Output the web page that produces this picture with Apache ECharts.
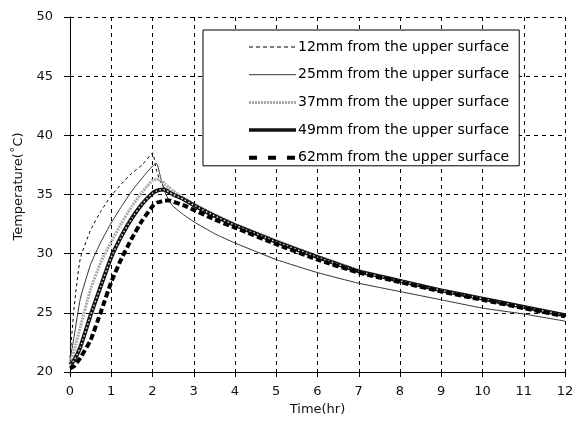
<!DOCTYPE html>
<html>
<head>
<meta charset="utf-8">
<script src="https://cdn.jsdelivr.net/npm/echarts@6/dist/echarts.min.js"></script>
<style>
  html, body { margin: 0; padding: 0; background: #fff; }
  #chart { width: 578px; height: 424px; }
</style>
</head>
<body>
<div id="chart"></div>
<script>
// time (hr) shared by every curve
var time = [0, 0.1, 0.25, 0.5, 0.75, 1, 1.25, 1.5, 1.75, 2, 2.1, 2.2, 2.3, 2.4, 2.5, 2.75, 3, 3.5, 4, 5, 6, 7, 8, 9, 10, 11, 12];

var names = [
    '12mm from the upper surface',
    '25mm from the upper surface',
    '37mm from the upper surface',
    '49mm from the upper surface',
    '62mm from the upper surface'
];

// temperatures
var t12 = [21.2, 25.5, 29.6, 32.0, 33.6, 34.9, 35.9, 36.8, 37.5, 38.5, 37.0, 36.0, 35.5, 35.2, 35.0, 34.5, 34.0, 33.1, 32.3, 30.9, 29.6, 28.4, 27.6, 26.9, 26.1, 25.4, 24.7];
var t25 = [21.0, 23.0, 26.2, 29.1, 31.0, 32.6, 34.0, 35.3, 36.4, 37.4, 37.6, 36.4, 35.2, 34.5, 34.0, 33.3, 32.7, 31.7, 30.9, 29.5, 28.4, 27.5, 26.8, 26.1, 25.4, 24.9, 24.3];
var t37 = [20.8, 21.8, 23.8, 27.0, 29.3, 31.0, 32.6, 34.0, 35.2, 36.2, 36.3, 36.2, 35.9, 35.6, 35.3, 34.7, 34.2, 33.3, 32.5, 31.1, 29.8, 28.6, 27.7, 26.9, 26.2, 25.5, 24.8];
var t49 = [20.6, 21.0, 22.1, 24.8, 27.3, 29.7, 31.5, 33.0, 34.2, 35.1, 35.3, 35.4, 35.4, 35.2, 35.0, 34.6, 34.1, 33.2, 32.4, 31.0, 29.7, 28.5, 27.7, 26.9, 26.2, 25.5, 24.8];
var t62 = [20.3, 20.5, 21.2, 22.7, 25.1, 27.6, 29.6, 31.3, 32.8, 34.0, 34.3, 34.4, 34.5, 34.5, 34.4, 34.1, 33.7, 32.9, 32.2, 30.8, 29.5, 28.4, 27.6, 26.8, 26.1, 25.4, 24.7];

function pairs(vals) {
    return time.map(function (t, i) { return [t, vals[i]]; });
}

var font = 'DejaVu Sans';
var chart = echarts.init(document.getElementById('chart'));

function curve(name, vals, style) {
    return {
        name: name,
        type: 'line',
        symbol: 'none',
        smooth: 0.15,
        data: pairs(vals),
        lineStyle: style,
        itemStyle: { color: style.color }
    };
}

// white dots over the 49mm curve
var dots = curve('49dots', t49, { color: '#ddd', width: 1.5, type: [1.5, 2.5] });
dots.silent = true;

var option = {
    animation: false,
    backgroundColor: '#fff',
    textStyle: { fontFamily: font },
    grid: { left: 70, right: 13, top: 17, bottom: 52 },
    legend: {
        data: [
            { name: names[0], lineStyle: { width: 1, type: [4, 3] } },
            { name: names[1], lineStyle: { width: 1 } },
            { name: names[2], lineStyle: { width: 3, type: [2, 1] } },
            { name: names[3], lineStyle: { width: 3.5 } },
            { name: names[4], lineStyle: { width: 4, type: [8, 11] } }
        ],
        orient: 'vertical',
        left: 203,
        top: 30,
        backgroundColor: '#fff',
        borderColor: '#000',
        borderWidth: 1,
        borderRadius: 0,
        padding: [10, 10, 1, 44],
        itemWidth: 47,
        itemHeight: 12,
        itemGap: 13.7,
        itemStyle: { opacity: 0 },
        textStyle: { fontFamily: font, fontSize: 14, lineHeight: 14, color: '#000', padding: [0, 0, 0, -3] },
        z: 10
    },
    xAxis: {
        type: 'value',
        min: 0,
        max: 12,
        interval: 1,
        name: 'Time(hr)',
        nameLocation: 'middle',
        nameGap: 31,
        nameTextStyle: { fontFamily: font, fontSize: 13, color: '#111' },
        axisLine: { onZero: false, lineStyle: { color: '#000', width: 1 } },
        axisTick: { length: 5, lineStyle: { color: '#000' } },
        axisLabel: { fontFamily: font, fontSize: 13, color: '#111', margin: 13 },
        splitLine: { show: true, lineStyle: { color: '#000', width: 1, type: [4, 4] } }
    },
    yAxis: {
        type: 'value',
        min: 20,
        max: 50,
        interval: 5,
        name: 'Temperature(˚C)',
        nameLocation: 'middle',
        nameGap: 45,
        nameTextStyle: { fontFamily: font, fontSize: 13, color: '#111', padding: [0, 0, 0, 16] },
        axisLine: { show: true, lineStyle: { color: '#000', width: 1 } },
        axisTick: { show: true, length: 6, lineStyle: { color: '#000' } },
        axisLabel: { fontFamily: font, fontSize: 13, color: '#111', margin: 17 },
        splitLine: { show: true, lineStyle: { color: '#000', width: 1, type: [4, 4] } }
    },
    series: [
        curve(names[0], t12, { color: '#000', width: 1, type: [3, 3] }),
        curve(names[1], t25, { color: '#333', width: 1, type: 'solid' }),
        curve(names[2], t37, { color: '#aaa', width: 3, type: [2, 1] }),
        curve(names[3], t49, { color: '#111', width: 4, type: 'solid' }),
        dots,
        curve(names[4], t62, { color: '#000', width: 4, type: [6, 3] })
    ]
};

chart.setOption(option);
</script>
</body>
</html>
